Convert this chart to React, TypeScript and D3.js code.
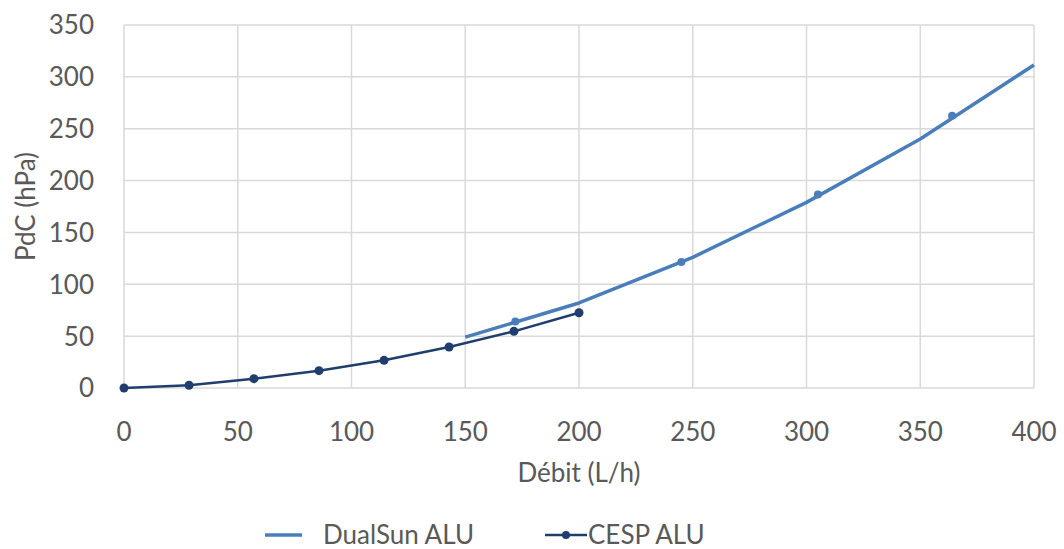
import React from "react";
import * as d3 from "d3";

const xTicks = [0, 50, 100, 150, 200, 250, 300, 350, 400];
const yTicks = [0, 50, 100, 150, 200, 250, 300, 350];

const dualSunX = [150, 200, 250, 300, 350, 400];
const dualSunY = [49, 82, 126, 179, 240, 311.5];

const dualSunDotsX = [172, 245, 305, 364];
const dualSunDotsY = [64, 121.5, 186.5, 262.5];

const cespX = [0, 28.6, 57.1, 85.7, 114.3, 142.9, 171.4, 200];
const cespY = [0, 2.6, 9, 16.7, 26.7, 39.5, 54.6, 72.6];

const W = 1064;
const H = 549;
const m = { left: 124, right: 1034, top: 25, bottom: 388 };
const FONT = "Lato, 'Open Sans', sans-serif";
const TXT = "#595959";
const LIGHT = "#4a7ebb";
const DARK = "#1f3e6e";
const LEG_Y = 535;

export default function App() {
  const x = d3.scaleLinear().domain([0, 400]).range([m.left, m.right]);
  const y = d3.scaleLinear().domain([0, 350]).range([m.bottom, m.top]);
  const line = d3
    .line<[number, number]>()
    .x((d) => x(d[0]))
    .y((d) => y(d[1]));
  const dual = dualSunX.map((v, i) => [v, dualSunY[i]] as [number, number]);
  const cesp = cespX.map((v, i) => [v, cespY[i]] as [number, number]);

  return (
    <svg
      width={W}
      height={H}
      style={{ position: "absolute", left: 0, top: 0, background: "#fff" }}
      fontFamily={FONT}
    >
      {yTicks.map((t) => (
        <line key={"gy" + t} x1={m.left} x2={m.right} y1={y(t)} y2={y(t)} stroke="#d9d9d9" strokeWidth={1.5} />
      ))}
      {xTicks.map((t) => (
        <line key={"gx" + t} x1={x(t)} x2={x(t)} y1={m.top} y2={m.bottom} stroke="#d9d9d9" strokeWidth={1.5} />
      ))}
      {yTicks.map((t) => (
        <text key={"ty" + t} x={94} y={y(t)} dy="0.36em" textAnchor="end" fontSize={26} fill={TXT}>
          {t}
        </text>
      ))}
      {xTicks.map((t) => (
        <text key={"tx" + t} x={x(t)} y={432} dy="0.36em" textAnchor="middle" fontSize={26} fill={TXT}>
          {t}
        </text>
      ))}
      <text x={(m.left + m.right) / 2} y={473} dy="0.36em" textAnchor="middle" fontSize={26} fill={TXT}>
        Débit (L/h)
      </text>
      <text
        transform={`translate(26,${(m.top + m.bottom) / 2}) rotate(-90)`}
        dy="0.36em"
        textAnchor="middle"
        fontSize={26}
        fill={TXT}
      >
        PdC (hPa)
      </text>

      <path d={line(dual) || ""} fill="none" stroke={LIGHT} strokeWidth={3.5} strokeLinejoin="round" />
      {dualSunDotsX.map((v, i) => (
        <circle key={"dd" + i} cx={x(v)} cy={y(dualSunDotsY[i])} r={4} fill={LIGHT} />
      ))}
      <path d={line(cesp) || ""} fill="none" stroke={DARK} strokeWidth={2.5} strokeLinejoin="round" />
      {cesp.map((d, i) => (
        <circle key={"cd" + i} cx={x(d[0])} cy={y(d[1])} r={4.5} fill={DARK} />
      ))}

      <line x1={265} x2={302} y1={LEG_Y} y2={LEG_Y} stroke={LIGHT} strokeWidth={3.5} />
      <text x={323} y={LEG_Y} dy="0.36em" fontSize={26} fill={TXT}>
        DualSun ALU
      </text>
      <line x1={545} x2={587} y1={LEG_Y} y2={LEG_Y} stroke={DARK} strokeWidth={2.5} />
      <circle cx={566} cy={LEG_Y} r={4} fill={DARK} />
      <text x={588} y={LEG_Y} dy="0.36em" fontSize={26} fill={TXT}>
        CESP ALU
      </text>
    </svg>
  );
}
